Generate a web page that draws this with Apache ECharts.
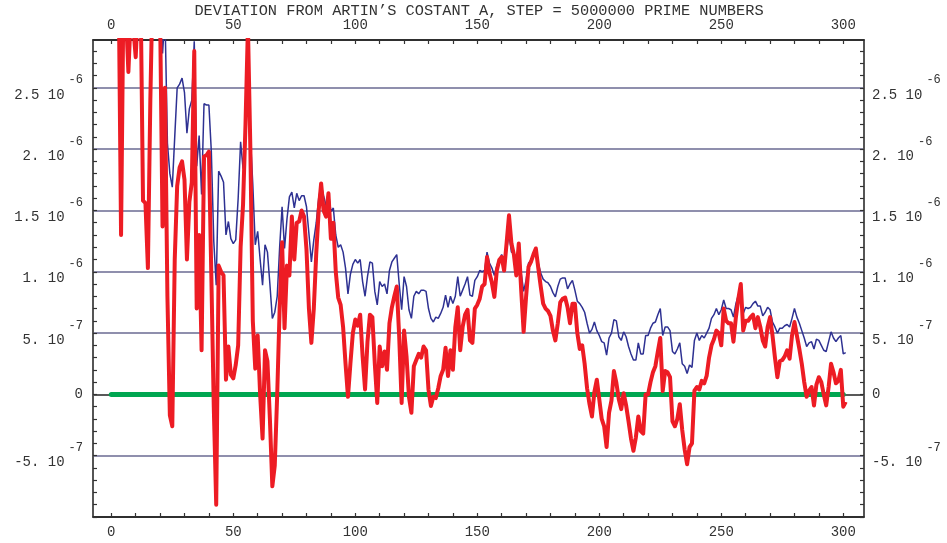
<!DOCTYPE html>
<html><head><meta charset="utf-8">
<script src="https://cdn.jsdelivr.net/npm/echarts@6/dist/echarts.min.js"></script>
<style>html,body{margin:0;padding:0;background:#fff}#c{width:947px;height:543px}</style>
</head><body><div id="c"></div>
<script>
const titleText = 'DEVIATION FROM ARTIN’S COSTANT A, STEP = 5000000 PRIME NUMBERS';
// x positions: index of each sample (step number)
const xLabelValues = [0, 50, 100, 150, 200, 250, 300];
const xTickValues = [0,10,20,30,40,50,60,70,80,90,100,110,120,130,140,150,160,170,180,190,200,210,220,230,240,250,260,270,280,290,300];
// y values are in units of 1e-7
const yLabelValues = [-5, 0, 5, 10, 15, 20, 25];
const yLabelMantissa = ['-5. 10', '0', '5. 10', '1. 10', '1.5 10', '2. 10', '2.5 10'];
const yLabelExponent = ['-7', '', '-7', '-6', '-6', '-6', '-6'];
const yTickValues = [-10,-9,-8,-7,-6,-5,-4,-3,-2,-1,0,1,2,3,4,5,6,7,8,9,10,11,12,13,14,15,16,17,18,19,20,21,22,23,24,25,26,27,28];

// green reference line (zero deviation)
const greenLine = [[0, 0], [300, 0]];

// red series (index 0..301), units 1e-7 (values above the frame are clipped)
const redVals = [
 40, 38, 36, 34, 13, 33, 31, 26.3, 31, 30,
 27.5, 32, 33, 15.8, 15.6, 10.3, 24, 34, 34, 33,
 31, 13.7, 25, 8, -1.7, -2.6, 11, 17, 18.5, 19,
 17.5, 11, 15.7, 17.3, 28, 7, 13, 3.6, 19.4, 19.5,
 19.8, 9.7, -1, -9, 10.5, 10, 9.7, 1.2, 3.9, 1.6,
 1.3, 2.4, 4, 12, 15.5, 22, 30, 20, 6, 2.1,
 4.8, 0, -3.6, 3.6, 2.7, -2, -7.5, -5.8, 0, 7,
 12.4, 5.4, 10.5, 9.7, 14.5, 11, 14, 14.1, 15, 14.5,
 11.8, 7, 4.2, 7, 11.5, 15, 17.2, 15, 14.5, 16.4,
 12.7, 14, 10, 7.9, 7.3, 5.5, 2.5, -0.2, 2.5, 5,
 6.1, 5.6, 6.5, 3.1, 0.4, 4.3, 6.5, 6.3, 2.5, -0.7,
 3.9, 2.3, 3.5, 2.0, 5.8, 7.1, 8.0, 8.8, 4.7, -0.7,
 5.2, 3.1, -0.2, -1.5, 2.3, 2.8, 3.3, 3.0, 3.9, 3.6,
 0.4, -0.95, -0.2, -0.3, 0.5, 1.5, 2.0, 3.8, 1.5, 3.6,
 2.0, 5.5, 7.1, 3.6, 5.5, 6.5, 6.9, 4.4, 4.2, 7.0,
 7.3, 7.8, 8.8, 9.0, 11.2, 9.9, 9.1, 7.95, 10.1, 10.95,
 11.2, 10.1, 12.3, 14.6, 12.3, 11.4, 9.7, 12.3, 8.5, 5.1,
 7.95, 10.4, 10.8, 11.4, 11.9, 10.3, 8.8, 7.4, 7.0, 6.8,
 6.4, 5.2, 4.4, 5.8, 7.5, 7.8, 7.9, 7.1, 5.8, 7.4,
 7.4, 5.0, 3.7, 4.0, 2.5, 0.5, -0.8, -1.8, 0.2, 1.2,
 -0.4, -2.0, -2.6, -4.3, -1.5, -0.5, 1.9, 0.95, -0.4, -1.2,
 0.1, -0.9, -2.2, -3.6, -4.6, -3.5, -1.8, -3.0, -3.2, 0.0,
 0, 1.0, 1.8, 2.3, 3.5, 4.6, 0.27, 1.9, 1.8, 1.4,
 -2.2, -2.6, -2.0, -0.8, -2.9, -4.5, -5.7, -4.3, -4.0, 0.3,
 0.6, 0.4, 1.1, 0.9, 1.5, 3.0, 4.0, 4.5, 5.2, 5.0,
 4.0, 7.0, 6.0, 5.8, 5.8, 4.3, 6.3, 7.8, 9.0, 5.2,
 6.0, 6.0, 6.3, 6.5, 5.4, 6.3, 5.5, 4.4, 3.9, 5.5,
 6.3, 4.8, 3.0, 1.4, 2.7, 2.8, 3.1, 3.6, 2.9, 4.8,
 5.9, 4.8, 3.7, 2.5, 1.0, -0.2, 0.3, 0.6, -0.9, 0.8,
 1.4, 1.0, 0.0, -0.9, 0.6, 2.5, 1.8, 0.9, 1.1, 2.0,
 -1.0, -0.6
];

// blue series (index 0..301), units 1e-7
const blueVals = [
 36, 36, 36, 36, 36, 36, 36, 36, 36, 36,
 36, 36, 36, 36, 36, 36, 36, 36, 36, 36,
 33, 27.8, 31, 20.5, 18, 16.9, 21, 25, 25.3, 25.8,
 24.6, 21.3, 23.3, 24, 28.8, 18.6, 21.1, 16.3, 23.7, 23.6,
 23.6, 19.8, 12.5, 8.9, 18.2, 17.8, 17.3, 13, 14.1, 12.7,
 12.3, 12.6, 16, 20.6, 18.4, 22, 25.4, 21.1, 17.1, 12.2,
 13.3, 11, 8.9, 12.2, 11.6, 9, 6.2, 6.7, 8, 12,
 15.3, 11.9, 14.3, 16.1, 16.5, 15.2, 16.4, 15.8, 16.2, 16.2,
 15.3, 13.1, 10.8, 12.6, 14.0, 16, 17.1, 16.2, 15.4, 16.5,
 14.9, 15.2, 13, 12.0, 12.2, 11.6, 10.3, 8.2, 9.8, 10.6,
 11, 10.7, 11, 9.2, 8.0, 9.6, 10.8, 10.7, 8.4, 7.3,
 9.2, 8.8, 9.0, 8.2, 10.1, 10.8, 11.1, 11.4, 9.0, 6.9,
 9.6, 8.8, 6.9, 6.2, 8.0, 8.4, 8.2, 8.5, 8.5, 8.4,
 7.0, 6.2, 5.9, 6.3, 6.2, 6.6, 7.1, 8.1, 7.1, 8.0,
 7.4, 8.0, 9.6, 8.0, 8.5, 9.0, 9.6, 8.1, 8.0, 9.3,
 9.6, 10.1, 10.0, 10.1, 11.6, 10.7, 10.3, 9.7, 10.5, 10.95,
 11.4, 10.8, 11.8, 13, 11.6, 11.6, 10.5, 11.9, 9.9, 8.4,
 9.3, 10.7, 10.95, 11.4, 11.8, 10.7, 9.9, 9.4, 9.2, 9.1,
 8.8, 8.3, 7.95, 8.8, 9.4, 9.5, 9.5, 8.6, 9.0, 9.3,
 8.5, 7.6, 7.4, 7.1, 6.7, 5.8, 5.0, 5.3, 5.9, 5.2,
 4.8, 4.3, 4.2, 3.2, 4.6, 5.0, 6.1, 6.0, 4.7, 4.4,
 5.1, 4.7, 3.9, 3.3, 2.8, 2.8, 4.2, 3.3, 3.3, 4.8,
 4.8, 5.4, 5.8, 5.9, 6.5, 7.0, 4.8, 5.5, 5.5, 5.2,
 3.5, 3.3, 3.7, 4.2, 2.5, 2.3, 1.7, 2.4, 2.2, 4.4,
 5.0, 4.4, 4.8, 4.6, 5.0, 5.4, 6.2, 6.5, 7.0, 6.5,
 6.9, 7.7, 7.0, 7.0, 6.9, 6.3, 7.4, 8.1, 8.6, 6.6,
 7.1, 7.0, 7.1, 7.4, 7.6, 7.2, 7.2, 6.4, 6.7, 7.1,
 6.9, 5.9, 5.5, 5.0, 5.4, 5.4, 5.6, 5.7, 5.5, 6.2,
 7.0, 6.3, 5.8, 5.2, 4.6, 3.9, 4.2, 4.3, 3.7, 4.5,
 4.4, 4.0, 3.6, 3.5, 4.3, 5.1, 4.6, 4.3, 4.6, 4.8,
 3.3, 3.4
];

const FONT = '"Liberation Mono", "DejaVu Sans Mono", monospace';
const TXT = '#333';
const X_MIN = -7.5, X_MAX = 308.5, Y_MIN = -10, Y_MAX = 28.9;

function yFmt(v) {
  const k = yLabelValues.indexOf(v);
  if (k < 0) return '';
  return yLabelExponent[k] ? '{b|' + yLabelMantissa[k] + '}{s|' + yLabelExponent[k] + '}' : '{z|' + yLabelMantissa[k] + '}';
}
const yRich = {
  b: { fontFamily: FONT, fontSize: 14, color: TXT, padding: [14, 0, 0, 0] },
  s: { fontFamily: FONT, fontSize: 12, color: TXT, padding: [0, 0, 15, 4] },
  z: { fontFamily: FONT, fontSize: 14, color: TXT }
};
function yAxisSide(pos) {
  return {
    type: 'value', position: pos, min: Y_MIN, max: Y_MAX,
    axisLine: { show: true, onZero: false, lineStyle: { color: '#555', width: 2 } },
    axisTick: { show: true, inside: true, length: 4, customValues: yTickValues, lineStyle: { color: '#333', width: 1.2 } },
    axisLabel: { show: true, customValues: yLabelValues, margin: pos === 'left' ? 10 : 8, formatter: yFmt, rich: yRich },
    splitLine: { show: false }
  };
}
function xAxisSide(pos) {
  return {
    type: 'value', position: pos, min: X_MIN, max: X_MAX,
    axisLine: { show: true, onZero: false, lineStyle: { color: '#222', width: 1.5 } },
    axisTick: { show: true, inside: true, length: 4, customValues: xTickValues, lineStyle: { color: '#333', width: 1.2 } },
    axisLabel: { show: true, customValues: xLabelValues, margin: 8, fontFamily: FONT, fontSize: 14, color: TXT },
    splitLine: { show: false }
  };
}

const chart = echarts.init(document.getElementById('c'), null, { renderer: 'canvas' });
chart.setOption({
  animation: false,
  backgroundColor: '#fff',
  grid: { left: 93, right: 83, top: 40, bottom: 26, containLabel: false },
  graphic: [{
    type: 'text', x: 479, y: 11,
    style: { text: titleText, fontFamily: FONT, fontSize: 15.3, fill: TXT, textAlign: 'center', textVerticalAlign: 'middle' }
  }],
  xAxis: [xAxisSide('bottom'), xAxisSide('top')],
  yAxis: [
    yAxisSide('left'),
    yAxisSide('right'),
    {
      type: 'value', position: 'left', min: Y_MIN, max: Y_MAX, interval: 5,
      axisLine: { show: false }, axisTick: { show: false }, axisLabel: { show: false },
      splitLine: { show: true, lineStyle: { width: 1.5, color: ['#222', '#6a6a92', '#222', '#6a6a92', '#6a6a92', '#6a6a92', '#6a6a92', '#6a6a92', '#222'] } }
    }
  ],
  series: [
    { type: 'line', name: 'zero', xAxisIndex: 0, yAxisIndex: 0, data: greenLine, showSymbol: false, symbol: 'none',
      lineStyle: { color: '#00a651', width: 5, cap: 'round' }, z: 3 },
    { type: 'line', name: 'blue', xAxisIndex: 0, yAxisIndex: 0, data: blueVals.map((v, i) => [i, v]), showSymbol: false, symbol: 'none',
      lineStyle: { color: '#2e3192', width: 1.5 }, z: 4 },
    { type: 'line', name: 'red', xAxisIndex: 0, yAxisIndex: 0, data: redVals.map((v, i) => [i, v]), showSymbol: false, symbol: 'none',
      lineStyle: { color: '#ed1c24', width: 4, join: 'round' }, z: 5 }
  ]
});
</script>
</body></html>
